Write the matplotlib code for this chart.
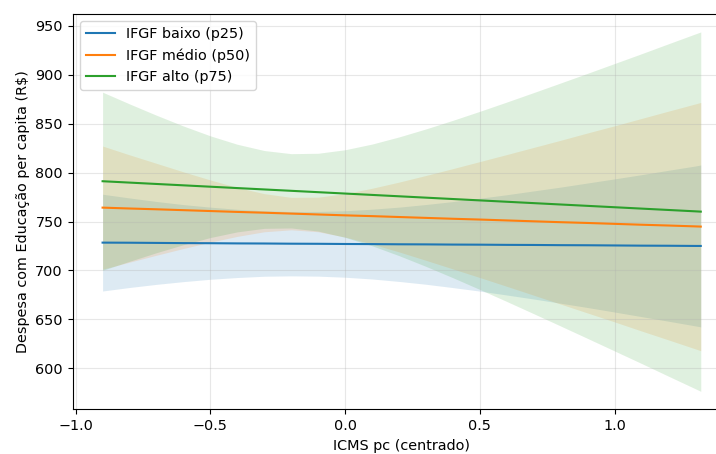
import numpy as np
import matplotlib
matplotlib.use('Agg')
import matplotlib.pyplot as plt

# --- Data ---
icms_x = [-0.9, -0.8, -0.7, -0.6, -0.5, -0.4, -0.3, -0.2, -0.1, 0.0, 0.1, 0.2,
          0.3, 0.4, 0.5, 0.6, 0.7, 0.8, 0.9, 1.0, 1.1, 1.2, 1.3, 1.32]

labels = ['IFGF baixo (p25)', 'IFGF médio (p50)', 'IFGF alto (p75)']

pred_baixo = [728.4, 728.3, 728.1, 727.9, 727.8, 727.6, 727.5, 727.3, 727.2, 727.0, 726.9, 726.7,
              726.6, 726.4, 726.3, 726.1, 726.0, 725.8, 725.7, 725.5, 725.3, 725.2, 725.0, 725.0]
upper_baixo = [777.9, 774.1, 770.5, 767.3, 764.7, 762.5, 761.0, 760.2, 760.3, 761.0, 762.6, 764.7,
               767.4, 770.4, 773.8, 777.4, 781.3, 785.2, 789.4, 793.6, 797.9, 802.4, 806.8, 807.8]
lower_baixo = [678.9, 682.5, 685.7, 688.5, 690.9, 692.7, 694.0, 694.4, 694.1, 693.0, 691.2, 688.7,
               685.8, 682.4, 678.8, 674.8, 670.7, 666.4, 662.0, 657.4, 652.7, 648.0, 643.2, 642.2]

pred_medio = [764.2, 763.3, 762.5, 761.6, 760.7, 759.8, 759.0, 758.1, 757.2, 756.3, 755.5, 754.6,
              753.7, 752.8, 752.0, 751.1, 750.2, 749.3, 748.5, 747.6, 746.7, 745.9, 745.0, 744.8]
upper_medio = [827.2, 818.2, 809.5, 800.8, 792.5, 784.8, 778.5, 774.7, 774.9, 778.5, 784.0, 790.3,
               797.1, 804.1, 811.3, 818.5, 825.8, 833.1, 840.6, 847.9, 855.4, 862.9, 870.3, 871.8]
lower_medio = [701.2, 708.4, 715.5, 722.4, 728.9, 734.8, 739.5, 741.5, 739.5, 734.1, 727.0, 718.9,
               710.3, 701.5, 692.7, 683.7, 674.6, 665.5, 656.4, 647.3, 638.0, 628.9, 619.7, 617.8]

pred_alto = [791.2, 789.8, 788.4, 787.0, 785.6, 784.2, 782.8, 781.4, 780.0, 778.6, 777.2, 775.8,
             774.4, 773.0, 771.6, 770.2, 768.8, 767.4, 766.0, 764.6, 763.2, 761.8, 760.4, 760.1]
upper_alto = [882.3, 870.3, 858.7, 847.7, 837.6, 829.0, 822.6, 819.4, 819.8, 823.4, 829.2, 836.5,
              844.7, 853.5, 862.7, 872.2, 881.9, 891.7, 901.6, 911.6, 921.6, 931.8, 941.9, 943.9]
lower_alto = [700.1, 709.3, 718.1, 726.3, 733.6, 739.4, 743.0, 743.4, 740.2, 733.8, 725.2, 715.1,
              704.1, 692.5, 680.5, 668.2, 655.7, 643.1, 630.4, 617.6, 604.8, 591.8, 578.9, 576.3]

series = [
    (pred_baixo, lower_baixo, upper_baixo),
    (pred_medio, lower_medio, upper_medio),
    (pred_alto, lower_alto, upper_alto),
]
colors = ['tab:blue', 'tab:orange', 'tab:green']

plt.rcParams['font.size'] = 10.4

# --- Plot ---
fig = plt.figure(figsize=(7.16, 4.54), dpi=100)
# the reference is cropped on the right, so the axes run past the figure edge
ax = fig.add_axes([0.1015, 0.0985, 0.919, 0.8707])

for (pred, lo, hi), lab, col in zip(series, labels, colors):
    ax.plot(icms_x, pred, color=col, linewidth=1.5, label=lab)
    ax.fill_between(icms_x, lo, hi, color=col, alpha=0.15, linewidth=0)

ax.set_xlabel('ICMS pc (centrado)')
ax.set_ylabel('Despesa com Educação per capita (R$)')
ax.legend(loc='upper left')
ax.grid(True, alpha=0.3)

fig.savefig('out.png', dpi=100)
plt.close(fig)
